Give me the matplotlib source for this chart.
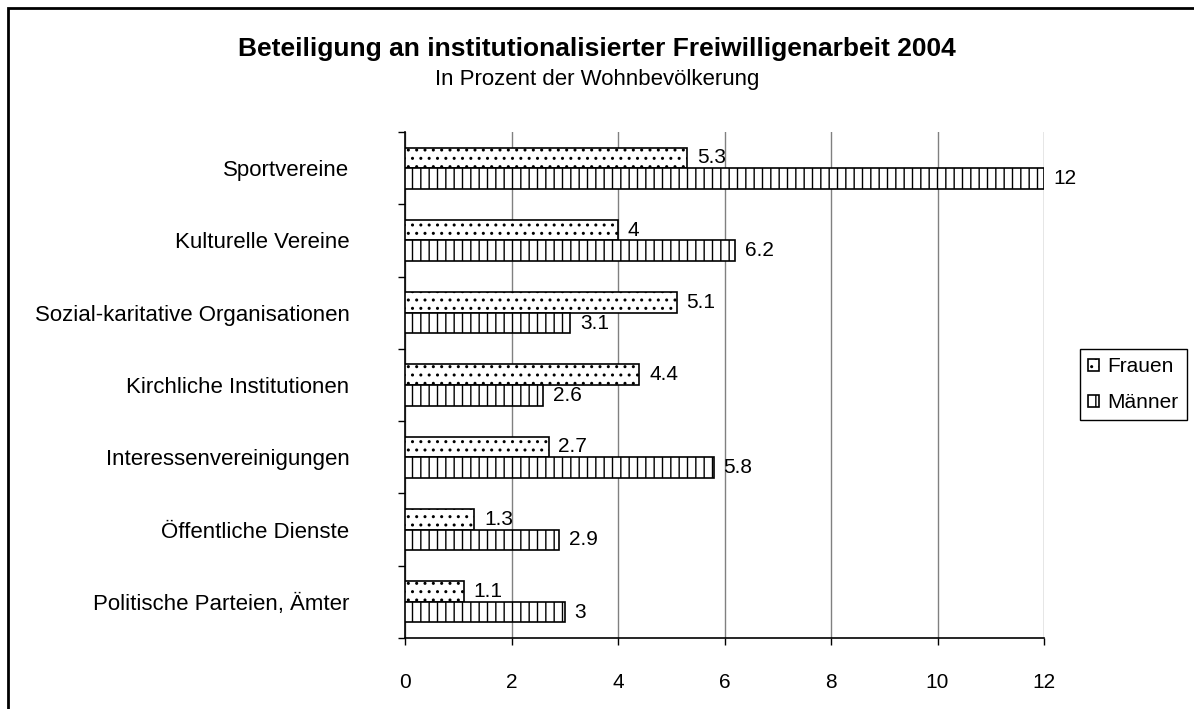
import numpy as np
import matplotlib.pyplot as plt
from matplotlib.patches import Rectangle

plt.rcParams['font.family'] = ['Liberation Sans', 'DejaVu Sans']
plt.rcParams['hatch.linewidth'] = 1.0

# Daten
kategorien = ["Sportvereine", "Kulturelle Vereine", "Sozial-karitative Organisationen",
              "Kirchliche Institutionen", "Interessenvereinigungen",
              "Öffentliche Dienste", "Politische Parteien, Ämter"]
frauen = [5.3, 4, 5.1, 4.4, 2.7, 1.3, 1.1]
maenner = [12, 6.2, 3.1, 2.6, 5.8, 2.9, 3]
x_ticks = [0, 2, 4, 6, 8, 10, 12]

fig = plt.figure(figsize=(11.94, 7.09), dpi=100)
ax = fig.add_axes([405 / 1194, 1 - 638 / 709, 639 / 1194, 506 / 709])

n = len(kategorien)
y = np.arange(n)[::-1]
h = 0.285

b1 = ax.barh(y + h / 2, frauen, height=h, color='white', edgecolor='black',
             linewidth=1.2, hatch='..', label='Frauen', zorder=3)
b2 = ax.barh(y - h / 2, maenner, height=h, color='white', edgecolor='black',
             linewidth=1.2, hatch='||', label='Männer', zorder=3)

for bars, vals in ((b1, frauen), (b2, maenner)):
    ax.bar_label(bars, labels=[f'{v:g}' for v in vals], padding=7, fontsize=15)

ax.set_xlim(0, 12)
ax.set_ylim(-0.5, n - 0.5)
ax.set_xticks(x_ticks)
ax.tick_params(axis='x', labelsize=15, length=5, width=1, pad=20)

ax.set_yticks(y)
ax.set_yticklabels(kategorien, fontsize=16)
ax.tick_params(axis='y', which='major', length=0, pad=40)
ax.set_yticks(np.arange(n + 1) - 0.5, minor=True)
ax.tick_params(axis='y', which='minor', length=5, width=1)

ax.grid(axis='x', color='#808080', linewidth=1, zorder=0)
ax.set_axisbelow(True)
for s in ('top', 'right'):
    ax.spines[s].set_visible(False)
ax.spines['left'].set_linewidth(1.2)
ax.spines['bottom'].set_linewidth(1.2)

fig.text(0.5, 1 - 49 / 709, 'Beteiligung an institutionalisierter Freiwilligenarbeit 2004',
         ha='center', va='center', fontsize=19, fontweight='bold')
fig.text(0.5, 1 - 80 / 709, 'In Prozent der Wohnbevölkerung',
         ha='center', va='center', fontsize=16)

leg = ax.legend(loc='upper left', bbox_to_anchor=(1080 / 1194, 1 - 349 / 709),
                bbox_transform=fig.transFigure, borderaxespad=0, fontsize=15,
                handlelength=0.5, handleheight=0.5, handletextpad=0.4,
                labelspacing=0.8, borderpad=0.4, fancybox=False, framealpha=1)
leg.get_frame().set_edgecolor('black')
leg.get_frame().set_linewidth(1)

fig.patches.append(Rectangle((8 / 1194, -0.1), 1.2, 1.1 - 8 / 709, fill=False,
                             edgecolor='black', linewidth=2, transform=fig.transFigure))

fig.savefig('out.png', dpi=100)
